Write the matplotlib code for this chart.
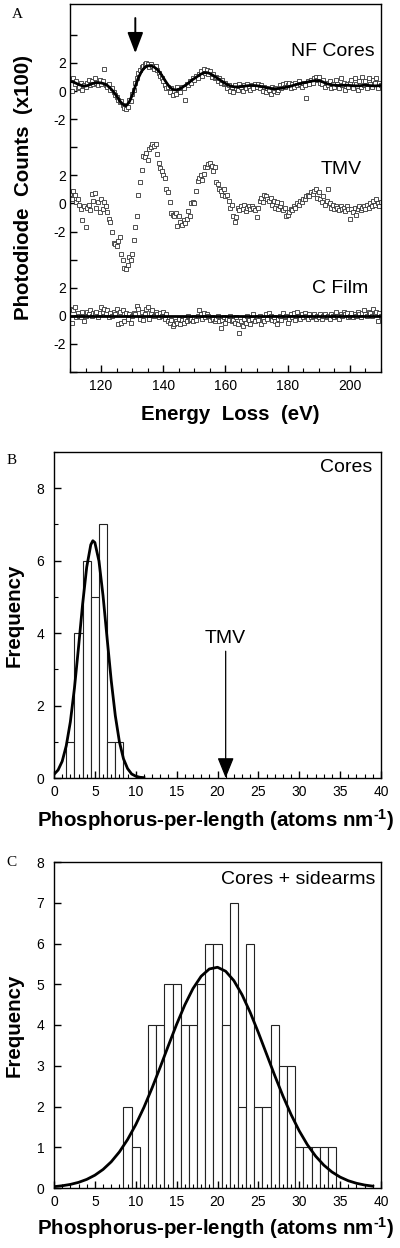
import numpy as np
import matplotlib
matplotlib.use("Agg")
import matplotlib.pyplot as plt
from matplotlib.ticker import MultipleLocator, FixedLocator, FixedFormatter

plt.rcParams['font.family'] = ['Liberation Sans', 'DejaVu Sans']
plt.rcParams['axes.unicode_minus'] = False
plt.rcParams['mathtext.fontset'] = 'custom'
plt.rcParams['mathtext.rm'] = 'Liberation Sans:bold'
plt.rcParams['mathtext.it'] = 'Liberation Sans:bold'
plt.rcParams['mathtext.bf'] = 'Liberation Sans:bold'

# ---------------- Panel A data (energy grid 110..210 eV, 0.5 eV step) ----------------
energy_start = 110.0
energy_step = 0.5

nf_counts = [
    0.8, 0.0, 0.9, 0.5, 0.7, 0.2, 0.3, 0.6, 0.1, 0.4, 0.3, 0.6, 0.8, 0.4, 0.7, 0.5, 0.9, 0.6, 0.4, 0.8,
    0.5, 0.7, 1.55, 0.4, 0.3, 0.5, 0.1, 0.2, -0.1, -0.3, -0.4, -0.6, -0.8, -0.7, -1.0, -1.2, -1.3, -1.1, -0.6, -0.7,
    -0.2, 0.1, 0.6, 0.9, 1.3, 1.5, 1.7, 1.8, 1.9, 2.0, 1.9, 1.7, 1.9, 1.8, 1.6, 1.8, 1.5, 1.3, 1.1, 0.9,
    0.7, 0.4, 0.2, 0.3, -0.1, 0.2, -0.3, 0.0, -0.2, 0.3, 0.1, -0.1, 0.3, 0.2, -0.6, 0.5, 0.4, 0.7, 0.6, 0.9,
    0.8, 1.1, 0.9, 1.2, 1.4, 1.1, 1.6, 1.3, 1.5, 1.2, 1.4, 1.0, 1.2, 0.9, 1.0, 0.7, 0.9, 0.6, 0.8, 0.5,
    0.6, 0.2, 0.4, 0.0, 0.3, -0.1, 0.4, 0.2, 0.1, 0.5, 0.3, 0.0, 0.4, 0.2, 0.5, 0.3, 0.1, 0.4, 0.2, 0.5,
    0.3, 0.5, 0.2, 0.4, 0.0, 0.3, -0.1, 0.2, 0.1, -0.2, 0.3, 0.0, 0.2, -0.1, 0.1, 0.4, 0.2, 0.5, 0.3, 0.6,
    0.4, 0.6, 0.2, 0.5, 0.3, 0.6, 0.4, 0.7, 0.5, 0.3, 0.6, 0.4, -0.5, 0.7, 0.5, 0.8, 0.6, 0.9, 1.0, 0.8,
    1.0, 0.6, 0.5, 0.8, 0.3, 0.6, 0.4, 0.7, 0.2, 0.5, 0.3, 0.8, 0.5, 0.2, 0.9, 0.4, 0.6, 0.1, 0.5, 0.3,
    0.6, 0.8, 0.2, 0.9, 0.5, 0.1, 0.7, 0.3, 1.0, 0.4, 0.7, 0.2, 0.9, 0.5, 0.3, 0.8, 0.6, 0.9, 0.2, 0.6, 0.4,
]

tmv_counts = [
    0.7, 0.3, 0.9, 0.6, 0.1, 0.3, -0.1, -0.4, -1.2, -0.2, -1.7, -0.3, -0.1, -0.5, 0.7, 0.2, 0.75, -0.3, 0.1, -0.6,
    0.3, -0.4, 0.1, -0.2, -0.6, -1.1, -1.3, -2.0, -2.8, -2.9, -3.0, -2.7, -2.4, -3.6, -4.0, -4.6, -4.7, -4.4, -3.8, -4.0,
    -3.6, -2.6, -1.7, -0.9, 0.6, 1.5, 2.4, 3.4, 3.3, 3.6, 3.1, 3.9, 4.0, 4.2, 4.1, 4.2, 3.5, 2.9, 2.5, 2.3,
    2.0, 1.8, 1.0, 0.8, 0.1, -0.7, -0.8, -0.9, -0.7, -1.6, -0.9, -1.3, -1.5, -1.2, -1.4, -1.1, -0.55, -0.9, 0.0, 0.1,
    0.05, 0.9, 1.6, 1.8, 2.0, 1.7, 2.1, 2.6, 2.6, 2.8, 2.9, 2.7, 2.3, 2.6, 1.55, 1.4, 1.0, 0.9, 0.6, 1.0,
    0.5, 0.6, 0.2, -0.3, -0.1, -0.9, -1.3, -1.0, -0.3, -0.5, -0.2, -0.4, -0.1, -0.55, -0.3, -0.2, -0.4, -0.15, -0.3, -0.5,
    -1.0, -0.3, 0.2, 0.4, 0.1, 0.6, 0.5, 0.3, 0.15, 0.4, -0.1, 0.2, -0.3, 0.1, -0.4, -0.2, 0.0, -0.5, -0.3, -0.9,
    -0.8, -0.6, -0.4, -0.5, -0.2, -0.3, 0.0, -0.1, 0.2, 0.1, 0.35, 0.3, 0.5, 0.6, 0.55, 0.8, 0.7, 0.9, 1.0, 0.4,
    0.8, 0.3, 0.1, 0.5, -0.1, 0.2, 1.0, 0.0, -0.3, -0.1, -0.4, -0.2, -0.3, -0.5, -0.2, -0.4, -0.3, -0.55, -0.2, -0.4,
    -1.1, -0.4, -0.6, -0.3, -0.8, -0.4, -0.2, -0.5, -0.3, -0.15, -0.4, -0.1, -0.3, 0.0, -0.2, 0.2, -0.1, 0.3, 0.0, -0.2, 0.1,
]

cfilm_counts = [
    0.5, -0.5, 0.4, 0.6, -0.1, 0.2, 0.0, -0.1, 0.3, -0.4, 0.0, 0.3, 0.1, 0.4, 0.0, 0.2, 0.1, 0.3, -0.1, 0.2,
    0.6, 0.3, 0.5, 0.2, 0.4, -0.1, 0.2, 0.0, 0.3, 0.1, 0.5, -0.6, 0.3, -0.5, 0.4, -0.4, 0.2, -0.2, 0.1, -0.5,
    0.0, 0.2, 0.1, 0.7, 0.5, -0.2, 0.3, -0.3, 0.1, 0.5, 0.6, -0.2, 0.2, 0.4, 0.0, 0.3, 0.1, -0.1, 0.2, 0.0,
    0.3, -0.2, 0.1, -0.4, -0.5, -0.3, -0.7, -0.6, -0.4, -0.5, -0.2, -0.6, -0.3, -0.5, -0.2, -0.4, 0.0, -0.3, -0.2, -0.4,
    -0.1, -0.3, 0.0, 0.4, 0.1, -0.2, 0.2, -0.1, 0.1, 0.0, -0.3, -0.1, -0.2, -0.4, -0.2, 0.0, -0.4, -0.9, -0.3, -0.1,
    -0.5, -0.2, -0.3, 0.0, -0.4, -0.3, -0.5, -0.1, -0.6, -1.25, -0.4, -0.7, -0.2, -0.5, 0.0, -0.3, -0.6, -0.2, 0.1, -0.4,
    -0.1, -0.3, 0.0, -0.6, -0.2, -0.4, 0.1, -0.2, 0.2, 0.0, -0.3, -0.1, -0.4, -0.6, -0.2, 0.0, -0.3, 0.2, -0.1, 0.0,
    -0.5, -0.2, 0.1, -0.1, 0.2, -0.3, 0.3, 0.0, -0.2, 0.1, -0.1, 0.2, 0.0, -0.2, 0.1, -0.1, 0.0, 0.1, -0.2, 0.0,
    -0.1, 0.1, -0.2, 0.0, 0.1, -0.1, 0.0, -0.2, 0.1, 0.0, -0.1, 0.3, 0.0, -0.2, 0.1, 0.0, 0.3, 0.1, 0.2, -0.1,
    0.0, 0.2, -0.1, 0.1, 0.0, 0.3, 0.1, -0.1, 0.2, 0.4, 0.1, 0.0, 0.3, 0.2, 0.0, 0.5, 0.1, 0.3, -0.4, 0.2, 0.0,
]

# smooth fit through NF cores (1 eV steps, 110..210)
nf_fit_energy = list(range(110, 211))
nf_fit = [
    0.7, 0.65, 0.55, 0.45, 0.38, 0.36, 0.42, 0.52, 0.58, 0.6,
    0.58, 0.52, 0.4, 0.2, -0.05, -0.35, -0.7, -0.95, -1.05, -0.8,
    -0.3, 0.35, 0.95, 1.4, 1.68, 1.8, 1.8, 1.72, 1.55, 1.3,
    0.95, 0.6, 0.3, 0.12, 0.08, 0.12, 0.25, 0.4, 0.55, 0.75,
    0.9, 1.05, 1.2, 1.3, 1.32, 1.25, 1.12, 0.98, 0.83, 0.68,
    0.54, 0.42, 0.33, 0.3, 0.3, 0.32, 0.35, 0.38, 0.4, 0.4,
    0.38, 0.35, 0.3, 0.25, 0.2, 0.18, 0.17, 0.18, 0.2, 0.25,
    0.3, 0.35, 0.42, 0.48, 0.53, 0.58, 0.63, 0.68, 0.72, 0.75,
    0.74, 0.68, 0.58, 0.5, 0.45, 0.42, 0.4, 0.4, 0.41, 0.42,
    0.4, 0.38, 0.37, 0.38, 0.4, 0.42, 0.4, 0.38, 0.37, 0.38, 0.4,
]
cfilm_fit_energy = [110, 210]
cfilm_fit = [0.0, 0.0]

trace_names = ['NF Cores', 'TMV', 'C Film']
trace_offsets = [16, 8, 0]
edge_arrow_energy = 131.0

# ---------------- Panel B data ----------------
cores_bins = [2, 3, 4, 5, 6, 7, 8]
cores_freq = [1, 4, 6, 5, 7, 1, 1]
cores_fit_x = [0, 0.5, 1, 1.5, 2, 2.5, 3, 3.5, 4, 4.5, 4.75, 5, 5.5, 6, 6.5, 7, 7.5, 8, 8.5, 9, 9.5, 10, 10.5, 11]
cores_fit_y = [0.10, 0.22, 0.46, 0.89, 1.55, 2.48, 3.61, 4.80, 5.82, 6.44, 6.55, 6.50, 5.99, 5.03, 3.85,
               2.69, 1.72, 1.00, 0.53, 0.26, 0.11, 0.05, 0.02, 0.01]
tmv_reference = 21.0

# ---------------- Panel C data ----------------
side_bins = list(range(9, 35))
side_freq = [2, 1, 0, 4, 4, 5, 5, 4, 4, 5, 6, 6, 4, 7, 2, 6, 2, 2, 4, 3, 3, 1, 1, 1, 1, 1]
side_fit_x = list(range(0, 40))
side_fit_y = [0.033, 0.055, 0.088, 0.138, 0.211, 0.314, 0.455, 0.643, 0.886, 1.189,
              1.554, 1.979, 2.456, 2.970, 3.499, 4.016, 4.492, 4.894, 5.196, 5.375,
              5.417, 5.319, 5.089, 4.744, 4.309, 3.813, 3.287, 2.761, 2.260, 1.803,
              1.401, 1.060, 0.782, 0.562, 0.393, 0.268, 0.178, 0.116, 0.073, 0.045]

# ---------------- Figure ----------------
W, H = 400, 1248
fig = plt.figure(figsize=(W / 100, H / 100), dpi=100)


def axrect(l, t, r, b):
    return [l / W, 1 - b / H, (r - l) / W, (b - t) / H]


def ftext(x, y, s, **kw):
    fig.text(x / W, 1 - y / H, s, **kw)


axA = fig.add_axes(axrect(70, 4, 381, 372))
axB = fig.add_axes(axrect(54, 452, 381, 778))
axC = fig.add_axes(axrect(54, 862, 381, 1188))

for ax in (axA, axB, axC):
    for sp in ax.spines.values():
        sp.set_linewidth(1.0)
        sp.set_color('black')
    ax.tick_params(direction='in', which='major', length=5, width=1.0, top=False, right=False,
                   labelsize=10)
    ax.tick_params(direction='in', which='minor', length=3, width=0.8, top=False, right=False)

LABEL_FS = 14.8
NOTE_FS = 14

# Panel A
counts = [nf_counts, tmv_counts, cfilm_counts]
for vals, off in zip(counts, trace_offsets):
    e = energy_start + energy_step * np.arange(len(vals))
    axA.plot(e, np.asarray(vals) + off, linestyle='none', marker='s', markersize=2.6,
             markerfacecolor='white', markeredgecolor='#333333', markeredgewidth=0.6)
axA.plot(nf_fit_energy, np.asarray(nf_fit) + trace_offsets[0], color='black', lw=2.0)
axA.plot(cfilm_fit_energy, np.asarray(cfilm_fit) + trace_offsets[2], color='black', lw=2.0)
axA.set_xlim(110, 210)
axA.set_ylim(-4, 22.2)
axA.xaxis.set_major_locator(MultipleLocator(20))
axA.xaxis.set_minor_locator(MultipleLocator(5))
yt = [-4, -2, 0, 2, 4, 6, 8, 10, 12, 14, 16, 18, 20]
ytl = ['', '-2', '0', '2', '', '-2', '0', '2', '', '-2', '0', '2', '']
axA.yaxis.set_major_locator(FixedLocator(yt))
axA.yaxis.set_major_formatter(FixedFormatter(ytl))
axA.tick_params(axis='x', pad=5)
axA.tick_params(axis='y', pad=3)
axA.annotate('', xy=(edge_arrow_energy, 18.7), xytext=(edge_arrow_energy, 21.2),
             arrowprops=dict(arrowstyle='-|>,head_length=0.42,head_width=0.16', mutation_scale=30,
                             color='black', lw=1.4, shrinkA=0, shrinkB=0))
ftext(375, 52, trace_names[0], ha='right', va='center', fontsize=NOTE_FS)
ftext(362, 169, trace_names[1], ha='right', va='center', fontsize=NOTE_FS)
ftext(368, 288, trace_names[2], ha='right', va='center', fontsize=NOTE_FS)
ftext(230, 415, 'Energy  Loss  (eV)', ha='center', va='center', fontsize=LABEL_FS, fontweight='bold')
ftext(24, 188, 'Photodiode  Counts  (x100)', ha='center', va='center', fontsize=LABEL_FS,
      fontweight='bold', rotation=90)
ftext(17, 14, 'A', ha='center', va='center', fontsize=11, family='Liberation Serif')

xlabel_hist = 'Phosphorus-per-length (atoms nm$^{\\text{-1}}$)'

# Panel B
axB.bar(cores_bins, cores_freq, width=1.0, facecolor='white', edgecolor='#222222', linewidth=0.8)
axB.plot(cores_fit_x, cores_fit_y, color='black', lw=2.0)
axB.set_xlim(0, 40)
axB.set_ylim(0, 9)
axB.xaxis.set_major_locator(MultipleLocator(5))
axB.xaxis.set_minor_locator(MultipleLocator(1))
axB.yaxis.set_major_locator(MultipleLocator(2))
axB.yaxis.set_minor_locator(MultipleLocator(1))
axB.tick_params(axis='x', pad=5)
axB.tick_params(axis='y', pad=7)
axB.annotate('', xy=(tmv_reference, 0), xytext=(tmv_reference, 3.5),
             arrowprops=dict(arrowstyle='-|>,head_length=0.42,head_width=0.17', mutation_scale=30,
                             color='black', lw=0.9, shrinkA=0, shrinkB=0))
axB.text(tmv_reference, 3.86, 'TMV', ha='center', va='center', fontsize=NOTE_FS)
ftext(372, 468, 'Cores', ha='right', va='center', fontsize=NOTE_FS)
ftext(14, 615, 'Frequency', ha='center', va='center', fontsize=LABEL_FS, fontweight='bold', rotation=90)
ftext(216, 820, xlabel_hist, ha='center', va='center', fontsize=LABEL_FS, fontweight='bold')
ftext(12, 460, 'B', ha='center', va='center', fontsize=11, family='Liberation Serif')

# Panel C
axC.bar(side_bins, side_freq, width=1.0, facecolor='white', edgecolor='#222222', linewidth=0.8)
axC.plot(side_fit_x, side_fit_y, color='black', lw=2.0)
axC.set_xlim(0, 40)
axC.set_ylim(0, 8)
axC.xaxis.set_major_locator(MultipleLocator(5))
axC.xaxis.set_minor_locator(MultipleLocator(1))
axC.yaxis.set_major_locator(MultipleLocator(1))
axC.tick_params(axis='x', pad=5)
axC.tick_params(axis='y', pad=7)
ftext(375, 880, 'Cores + sidearms', ha='right', va='center', fontsize=NOTE_FS)
ftext(14, 1025, 'Frequency', ha='center', va='center', fontsize=LABEL_FS, fontweight='bold', rotation=90)
ftext(216, 1228, xlabel_hist, ha='center', va='center', fontsize=LABEL_FS, fontweight='bold')
ftext(11, 862, 'C', ha='center', va='center', fontsize=11, family='Liberation Serif')

fig.savefig('out.png', dpi=100)
